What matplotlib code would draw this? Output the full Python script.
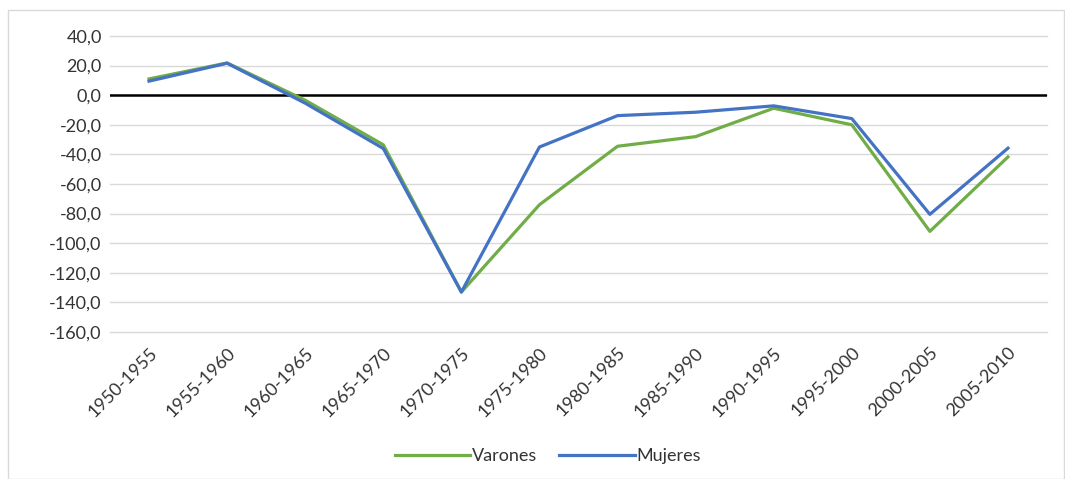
import matplotlib.pyplot as plt
import numpy as np
from matplotlib.patches import Rectangle

# periods and net migration values
periodos = ['1950-1955', '1955-1960', '1960-1965', '1965-1970', '1970-1975', '1975-1980',
            '1980-1985', '1985-1990', '1990-1995', '1995-2000', '2000-2005', '2005-2010']
varones = [11.0, 21.8, -3.4, -33.5, -133.0, -74.0, -34.5, -28.0, -8.8, -20.0, -92.0, -41.7]
mujeres = [9.5, 21.6, -5.4, -36.0, -133.0, -35.0, -13.8, -11.5, -7.2, -15.8, -80.5, -35.8]
yticks = [40, 20, 0, -20, -40, -60, -80, -100, -120, -140, -160]

plt.rcParams['font.family'] = ['Lato', 'DejaVu Sans']
fs = 13

fig = plt.figure(figsize=(10.65, 4.79), dpi=100)
ax = fig.add_axes([110 / 1065, 1 - 332 / 479, (1047 - 110) / 1065, (332 - 36) / 479])

# chart border
fig.patches.append(Rectangle((8 / 1065, 0), 1 - 9 / 1065, 1 - 10 / 479, transform=fig.transFigure,
                             fill=False, edgecolor='#D9D9D9', lw=1))

x = np.arange(len(periodos))
ax.plot(x, varones, color='#70AD47', lw=2.3, label='Varones', solid_joinstyle='round', zorder=3)
ax.plot(x, mujeres, color='#4472C4', lw=2.3, label='Mujeres', solid_joinstyle='round', zorder=4)

ax.set_xlim(-0.5, len(periodos) - 0.5)
ax.set_ylim(-160, 40)
ax.set_yticks(yticks)
ax.set_yticklabels([f"{v:.1f}".replace('.', ',') for v in yticks], fontsize=fs, color='#333333')
ax.set_xticks(x)
ax.set_xticklabels(periodos, rotation=45, ha='right', rotation_mode='anchor', fontsize=fs, color='#333333')
ax.tick_params(length=0, pad=6)
ax.tick_params(axis='x', pad=9)

ax.grid(axis='y', color='#D9D9D9', lw=1)
for gl in ax.get_ygridlines():
    gl.set_clip_on(False)
ax.axhline(0, color='black', lw=1.8, zorder=2)
for s in ax.spines.values():
    s.set_visible(False)

fig.legend(loc='center', bbox_to_anchor=(548 / 1065, 1 - 456 / 479), ncol=2, frameon=False,
           fontsize=fs, handlelength=4.2, columnspacing=1.2, handletextpad=0.1, labelcolor='#333333')

fig.savefig('out.png', dpi=100)
